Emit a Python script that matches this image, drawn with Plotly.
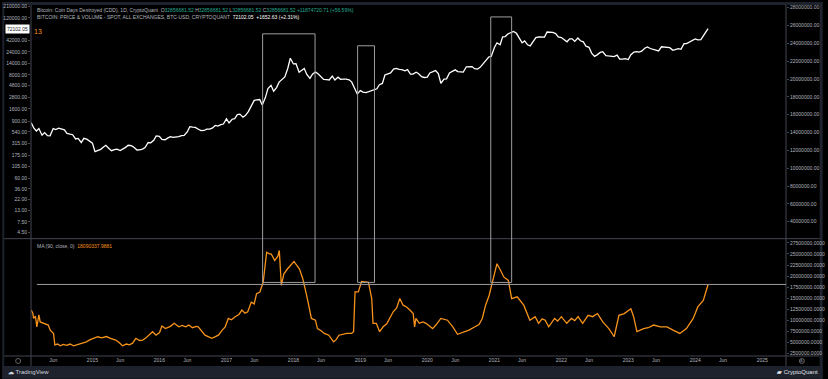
import plotly.graph_objects as go

# ---------------- data ----------------
btc_2014 = [830, 650, 560, 630, 460, 520, 450, 445, 630, 600, 640, 620, 590, 500, 475, 470, 385, 395, 325, 395, 380, 345]
btc_2015 = [315, 210, 225, 235, 260, 285, 245, 220, 232, 237, 222, 236, 258, 285, 280, 260, 228, 230, 237, 255, 325, 320, 360, 445]
btc_2016 = [433, 375, 370, 400, 430, 415, 417, 430, 450, 455, 535, 690, 675, 665, 610, 570, 575, 610, 615, 640, 730, 710, 755, 780]
btc_2017 = [1000, 820, 980, 1010, 1220, 1250, 1080, 1180, 1420, 1760, 2400, 2450, 2500, 1930, 2730, 4200, 4900, 3700, 4400, 5700, 6700, 7300, 10900, 17700]
btc_2018 = [13500, 13600, 9100, 10200, 10900, 8200, 6800, 8300, 9200, 8500, 7500, 6500, 6400, 6300, 7600, 6300, 7200, 6500, 6600, 6600, 6350, 5700, 4200, 3250]
btc_2019 = [3800, 3550, 3480, 3600, 3850, 3950, 4150, 5050, 5350, 8000, 8550, 8800, 10600, 10900, 10400, 10300, 9750, 10300, 8300, 8350, 9150, 8500, 7400, 7100]
btc_2020 = [7200, 8800, 9350, 9900, 8550, 5400, 6600, 6650, 8800, 9400, 10200, 9400, 9200, 9200, 11800, 11900, 11900, 10800, 10600, 11500, 13700, 16000, 18800, 19400]
btc_2021 = [29400, 36800, 33500, 48700, 49600, 55900, 58800, 63200, 57800, 46400, 36700, 40200, 33500, 31800, 39900, 47000, 48800, 48100, 48200, 61500, 61000, 60400, 57200, 48900]
btc_2022 = [47300, 43100, 38700, 44500, 44400, 39300, 46300, 40500, 38500, 31300, 29800, 22600, 19300, 20800, 23300, 24100, 20100, 19700, 19300, 19100, 20500, 16900, 17000, 17400]
btc_2023 = [16600, 20900, 23700, 24300, 23600, 24700, 28400, 30300, 28100, 27200, 26800, 25100, 30500, 30300, 29700, 29200, 25800, 26600, 27900, 27100, 35400, 35500, 38700, 42000]
btc_2024_dates = ["2024-01-01", "2024-01-15", "2024-02-01", "2024-02-15", "2024-03-01", "2024-03-11"]
btc_2024 = [44200, 42500, 43000, 51800, 62400, 72102.05]

ma_dates = [
    "2014-02-01", "2014-02-10", "2014-02-14", "2014-02-24", "2014-03-04", "2014-03-09", "2014-03-15", "2014-03-22",
    "2014-04-09", "2014-04-25", "2014-05-05", "2014-05-16", "2014-06-03", "2014-06-10", "2014-06-25", "2014-07-10",
    "2014-07-25", "2014-08-15", "2014-09-01", "2014-09-20", "2014-10-05", "2014-10-25", "2014-11-10", "2014-11-29",
    "2014-12-20", "2015-01-12", "2015-01-30", "2015-02-20", "2015-03-18", "2015-04-10", "2015-05-08", "2015-05-25",
    "2015-06-14", "2015-07-05", "2015-07-22", "2015-08-08", "2015-08-26", "2015-09-15", "2015-10-02", "2015-10-20",
    "2015-11-07", "2015-11-25", "2015-12-14", "2016-01-02", "2016-01-15", "2016-02-03", "2016-03-01", "2016-03-22",
    "2016-04-16", "2016-05-05", "2016-05-23", "2016-06-10", "2016-06-29", "2016-07-20", "2016-07-31", "2016-08-20",
    "2016-09-06", "2016-10-13", "2016-10-30", "2016-11-18", "2016-12-10", "2016-12-25", "2017-01-11", "2017-01-28",
    "2017-02-17", "2017-03-10", "2017-03-26", "2017-04-12", "2017-04-27", "2017-05-16", "2017-06-01", "2017-06-14",
    "2017-07-02", "2017-07-20", "2017-08-08", "2017-08-20", "2017-09-02", "2017-09-21", "2017-10-08", "2017-10-16",
    "2017-10-27", "2017-11-10", "2017-11-29", "2017-12-20", "2018-01-04", "2018-02-03", "2018-02-21", "2018-03-18",
    "2018-04-09", "2018-05-01", "2018-05-12", "2018-06-01", "2018-06-18", "2018-07-13", "2018-08-08", "2018-08-22",
    "2018-09-06", "2018-10-20", "2018-11-14", "2018-11-25", "2018-12-03", "2018-12-21", "2019-01-08", "2019-02-14",
    "2019-03-04", "2019-03-11", "2019-03-29", "2019-04-16", "2019-05-05", "2019-05-25", "2019-06-10", "2019-06-29",
    "2019-07-18", "2019-08-04", "2019-08-22", "2019-09-10", "2019-09-28", "2019-10-16", "2019-10-24", "2019-10-31",
    "2019-11-18", "2019-12-08", "2019-12-25", "2020-01-30", "2020-02-17", "2020-03-15", "2020-04-20", "2020-05-19",
    "2020-06-14", "2020-07-15", "2020-08-15", "2020-09-12", "2020-10-09", "2020-10-27", "2020-11-14", "2020-12-03",
    "2020-12-28", "2021-01-15", "2021-02-03", "2021-02-21", "2021-03-18", "2021-04-05", "2021-05-05", "2021-06-10",
    "2021-07-13", "2021-08-11", "2021-08-30", "2021-09-18", "2021-10-05", "2021-10-24", "2021-11-25", "2021-12-12",
    "2022-01-01", "2022-01-30", "2022-02-25", "2022-03-15", "2022-04-02", "2022-04-27", "2022-05-27", "2022-06-21",
    "2022-07-17", "2022-08-15", "2022-09-17", "2022-10-16", "2022-11-11", "2022-12-10", "2023-01-15", "2023-01-30",
    "2023-02-17", "2023-03-26", "2023-04-20", "2023-05-19", "2023-06-25", "2023-07-31", "2023-09-02", "2023-10-09",
    "2023-11-14", "2023-12-21", "2024-01-15", "2024-02-14", "2024-02-25", "2024-03-11",
]
ma_values_m = [
    12.3, 11.6, 10.4, 10.9, 8.5, 10.0, 11.2, 9.6,
    9.3, 9.2, 8.9, 7.75, 7.0, 4.4, 4.6, 4.2,
    4.5, 4.3, 4.6, 4.2, 4.4, 4.7, 4.9, 5.1,
    5.6, 5.9, 6.25, 6.0, 6.3, 5.9, 5.5, 5.0,
    4.2, 4.6, 4.4, 4.8, 5.9, 5.4, 5.5, 6.0,
    6.6, 7.4, 6.6, 7.2, 8.7, 8.1, 8.6, 9.3,
    8.5, 8.8, 8.5, 8.9, 8.3, 8.6, 8.5, 7.5,
    6.6, 5.9, 6.2, 6.6, 7.8, 8.5, 10.4, 10.1,
    10.8, 11.3, 12.3, 11.6, 11.9, 14.1, 13.7, 16.0,
    16.4, 18.6, 25.4, 25.1, 25.0, 23.5, 24.5, 25.8,
    17.9, 20.5, 21.6, 22.6, 23.3, 21.6, 19.4, 14.9,
    10.4, 10.0, 8.1, 7.6, 7.0, 6.6, 5.1, 5.6,
    6.6, 7.0, 7.0, 7.4, 16.4, 16.4, 18.8, 18.6,
    14.9, 9.3, 9.3, 7.4, 8.5, 9.2, 10.4, 11.9,
    12.8, 14.9, 13.4, 13.0, 12.3, 11.5, 8.5, 10.4,
    9.3, 9.6, 9.3, 8.1, 8.9, 10.4, 10.0, 8.5,
    6.8, 7.2, 7.75, 8.4, 9.0, 10.4, 13.4, 15.6,
    20.1, 22.8, 21.3, 19.8, 19.0, 14.9, 15.3, 13.4,
    10.0, 10.8, 9.3, 10.3, 10.0, 8.5, 10.4, 9.8,
    10.8, 9.3, 10.4, 9.9, 10.8, 9.3, 11.1, 10.8,
    11.5, 9.6, 8.1, 6.25, 11.1, 11.5, 12.6, 10.8,
    7.4, 8.1, 8.3, 8.9, 8.5, 8.5, 7.75, 7.0,
    8.1, 10.4, 13.0, 14.5, 16.0, 18.09,
]

price_ticks = [4.5, 7.5, 13, 22, 36, 60, 105, 175, 315, 540, 900, 1600, 2800, 4800, 8000, 14000, 24000, 42000, 120000, 210000]
cdd_ticks_upper = [4e6, 6e6, 8e6, 10e6, 12e6, 14e6, 16e6, 18e6, 20e6, 22e6, 24e6, 26e6, 28e6]
ma_ticks = [2.5e6, 5e6, 7.5e6, 10e6, 12.5e6, 15e6, 17.5e6, 20e6, 22.5e6, 25e6, 27.5e6]
x_tick_dates = ["2014-06-01", "2015-01-01", "2015-06-01", "2016-01-01", "2016-06-01", "2017-01-01", "2017-06-01",
                "2018-01-01", "2018-06-01", "2019-01-01", "2019-06-01", "2020-01-01", "2020-06-01", "2021-01-01",
                "2021-06-01", "2022-01-01", "2022-06-01", "2023-01-01", "2023-06-01", "2024-01-01", "2024-06-01",
                "2025-01-01"]
x_tick_text = ["Jun", "2015", "Jun", "2016", "Jun", "2017", "Jun", "2018", "Jun", "2019", "Jun", "2020", "Jun",
               "2021", "Jun", "2022", "Jun", "2023", "Jun", "2024", "Jun", "2025"]

boxes = [("2017-07-17", "2018-04-29", 32), ("2018-12-17", "2019-03-19", 44), ("2020-12-12", "2021-04-05", 15)]
level_line = 18.1e6

# --------------- build series ---------------
price_dates, price_values = [], []
years = [(2014, btc_2014), (2015, btc_2015), (2016, btc_2016), (2017, btc_2017), (2018, btc_2018),
         (2019, btc_2019), (2020, btc_2020), (2021, btc_2021), (2022, btc_2022), (2023, btc_2023)]
for yr, vals in years:
    start_month = 13 - len(vals) // 2
    i = 0
    for m in range(start_month, 13):
        for d in (1, 15):
            price_dates.append(f"{yr}-{m:02d}-{d:02d}")
            price_values.append(vals[i])
            i += 1
price_dates += btc_2024_dates
price_values += btc_2024
ma_values = [v * 1e6 for v in ma_values_m]

# --------------- layout helpers ---------------
W, H = 828, 379
ML, MR, MT, MB = 29, 37, 3, 23
PW = W - ML - MR
PH = H - MT - MB


def px(x):
    return (x - ML) / PW


def py(y):
    return (H - MB - y) / PH


split = py(238)
FONT = "Liberation Sans"
TICKC = "#b2b5be"
AXC = "#434651"
BOXC = "#9e9e9e"
BAR = "#1e222d"

fig = go.Figure()
fig.add_trace(go.Scatter(x=price_dates, y=price_values, mode="lines", line=dict(color="#ffffff", width=1.3),
                         xaxis="x", yaxis="y", hoverinfo="skip", showlegend=False))
fig.add_trace(go.Scatter(x=[price_dates[0]], y=[None], mode="lines", xaxis="x", yaxis="y2",
                         hoverinfo="skip", showlegend=False))
fig.add_trace(go.Scatter(x=ma_dates, y=ma_values, mode="lines", line=dict(color="#f7931a", width=1.3),
                         xaxis="x", yaxis="y3", hoverinfo="skip", showlegend=False))

tickfont = dict(family=FONT, size=5, color=TICKC)
fig.update_layout(
    width=W, height=H, margin=dict(l=ML, r=MR, t=MT, b=MB),
    paper_bgcolor="#000000", plot_bgcolor="#000000",
    font=dict(family=FONT, size=5, color=TICKC),
    xaxis=dict(domain=[0, 1], anchor="y3", type="date", range=["2014-01-31", "2025-05-10"],
               tickvals=x_tick_dates, ticktext=x_tick_text, tickfont=tickfont, showgrid=False,
               zeroline=False, showline=False, ticks=""),
    yaxis=dict(domain=[split, 1], anchor="x", type="log", range=[0.530, 5.345], side="left",
               tickvals=price_ticks, ticktext=[f"{v:.2f}" for v in price_ticks], tickfont=tickfont,
               showgrid=False, zeroline=False, showline=False, ticks="outside", ticklen=2, tickcolor=AXC),
    yaxis2=dict(overlaying="y", anchor="x", side="right", range=[2.10e6, 28.30e6],
                tickvals=cdd_ticks_upper, ticktext=[f"{v:.2f}" for v in cdd_ticks_upper], tickfont=tickfont,
                showgrid=False, zeroline=False, showline=False, ticks="outside", ticklen=2, tickcolor=AXC),
    yaxis3=dict(domain=[0, split], anchor="x", side="right", range=[1.89e6, 28.47e6],
                tickvals=ma_ticks, ticktext=[f"{v:.4f}" for v in ma_ticks], tickfont=tickfont,
                showgrid=False, zeroline=False, showline=False, ticks="outside", ticklen=2, tickcolor=AXC),
)

shapes = []
# frame strips
shapes.append(dict(type="rect", xref="paper", yref="paper", x0=px(0), x1=px(W), y0=py(H), y1=py(366),
                   fillcolor=BAR, line=dict(width=0), layer="below"))
shapes.append(dict(type="rect", xref="paper", yref="paper", x0=px(0), x1=px(W), y0=py(3), y1=py(0),
                   fillcolor=BAR, line=dict(width=0), layer="below"))
shapes.append(dict(type="rect", xref="paper", yref="paper", x0=px(0), x1=px(2), y0=py(H), y1=py(0),
                   fillcolor=BAR, line=dict(width=0), layer="below"))
shapes.append(dict(type="rect", xref="paper", yref="paper", x0=px(825), x1=px(W), y0=py(H), y1=py(0),
                   fillcolor=BAR, line=dict(width=0), layer="below"))
# axis / pane lines
for xx in (0, 1):
    shapes.append(dict(type="line", xref="paper", yref="paper", x0=xx, x1=xx, y0=py(366), y1=py(3),
                       line=dict(color=AXC, width=1)))
for yy in (split, 0):
    shapes.append(dict(type="line", xref="paper", yref="paper", x0=px(2), x1=px(825), y0=yy, y1=yy,
                       line=dict(color=AXC, width=1)))
# drawn boxes
for x0, x1, top in boxes:
    shapes.append(dict(type="rect", xref="x", yref="paper", x0=x0, x1=x1, y0=py(282), y1=py(top),
                       line=dict(color=BOXC, width=1), fillcolor="rgba(0,0,0,0)"))
# horizontal level
shapes.append(dict(type="line", xref="x", yref="y3", x0="2014-03-04", x1="2025-05-10", y0=level_line, y1=level_line,
                   line=dict(color=BOXC, width=1)))
# small icons
shapes.append(dict(type="circle", xref="paper", yref="paper", x0=px(13.5), x1=px(18.5), y0=py(363.5), y1=py(358.5),
                   line=dict(color="#787b86", width=0.8)))
shapes.append(dict(type="circle", xref="paper", yref="paper", x0=px(804.5), x1=px(809.5), y0=py(363.5), y1=py(358.5),
                   line=dict(color="#787b86", width=0.8)))
fig.update_layout(shapes=shapes)

G = "#22ab94"
header1 = ("Bitcoin: Coin Days Destroyed (CDD), 1D, CryptoQuant  "
           f"<span style='color:{TICKC}'>O</span><span style='color:{G}'>32856681.52</span> "
           f"<span style='color:{TICKC}'>H</span><span style='color:{G}'>32856681.52</span> "
           f"<span style='color:{TICKC}'>L</span><span style='color:{G}'>32856681.52</span> "
           f"<span style='color:{TICKC}'>C</span><span style='color:{G}'>32856681.52</span> "
           f"<span style='color:{G}'>+11874720.71 (+56.59%)</span>")
header2 = "BITCOIN: PRICE &amp; VOLUME - SPOT, ALL EXCHANGES, BTC-USD, CRYPTOQUANT  <span style='color:#ffffff'>72102.05  +1652.63 (+2.31%)</span>"

ann = [
    dict(text=header1, x=px(33), y=py(8)),
    dict(text=header2, x=px(33), y=py(15)),
    dict(text=f"MA (90, close, 0)  <span style='color:#f7931a'>18090337.9881</span>", x=px(33), y=py(245)),
    dict(text="13", x=px(30), y=py(30), font=dict(family=FONT, size=7, color="#f7931a")),
    dict(text="72102.05", x=px(15), y=py(27), xanchor="center", bgcolor="#ffffff",
         font=dict(family=FONT, size=5, color="#131722"), borderpad=1),
    dict(text="<b>☁</b> TradingView", x=px(4), y=py(372.5), font=dict(family=FONT, size=6, color="#d1d4dc")),
    dict(text="<b>▰</b> CryptoQuant", x=px(825), y=py(372.5), xanchor="right", font=dict(family=FONT, size=6, color="#e0e3eb")),
    dict(text="A", x=px(807), y=py(361), xanchor="center", font=dict(family=FONT, size=4, color="#787b86")),
]
annotations = []
for a in ann:
    base = dict(xref="paper", yref="paper", showarrow=False, xanchor="left", yanchor="middle",
                font=dict(family=FONT, size=5, color=TICKC))
    base.update(a)
    annotations.append(base)
fig.update_layout(annotations=annotations)

fig.write_html("out.html")
